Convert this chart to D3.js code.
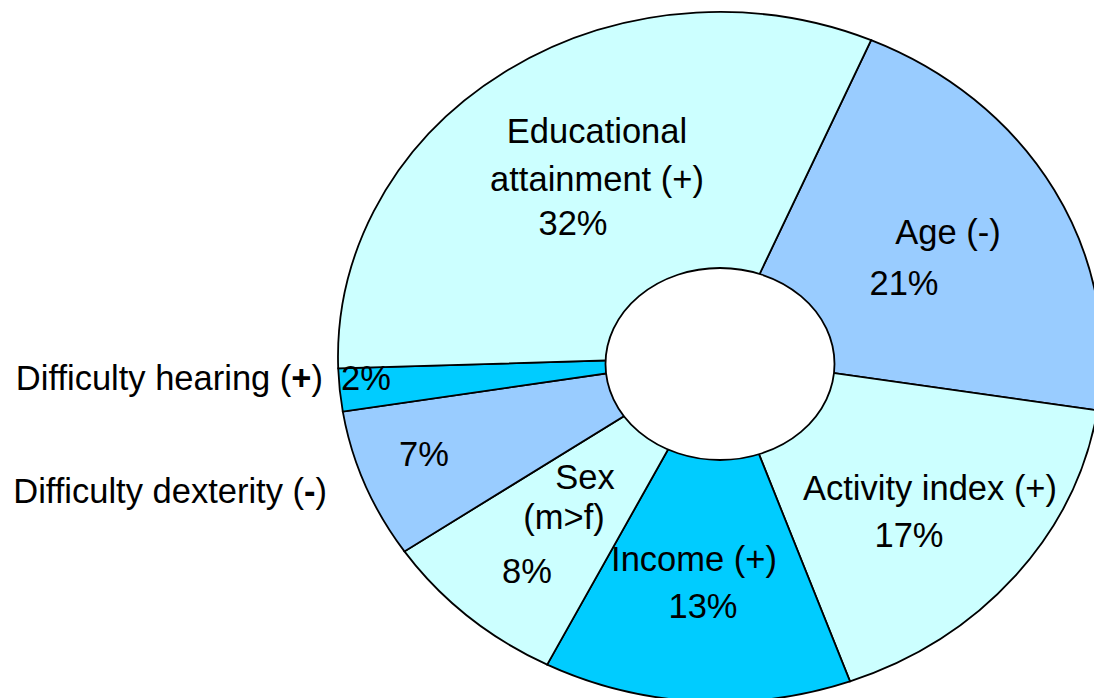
<!DOCTYPE html>
<html>
<head>
<meta charset="utf-8">
<script src="https://cdn.jsdelivr.net/npm/d3@7"></script>
<style>
  body { margin: 0; background: #fff; overflow: hidden; }
  svg { display: block; font-family: "Liberation Sans", Arial, sans-serif; }
</style>
</head>
<body>
<div id="chart"></div>
<script>
(function() {

    // slices, clockwise starting with Age
    const categories = ["Age (-)", "Activity index (+)", "Income (+)", "Sex (m>f)",
                        "Difficulty dexterity (-)", "Difficulty hearing (+)", "Educational attainment (+)"];
    const shares = [21, 17, 13, 8, 7, 2, 32];

    const fills = ["#99ccff", "#ccffff", "#00ccff", "#ccffff", "#99ccff", "#00ccff", "#ccffff"];

    const width = 1094;
    const height = 698;
    const center = {x: 720, y: 357};
    const rx = 382, ry = 345;
    const hole = {x: 720, y: 364, rx: 114.5, ry: 96};
    const startDeg = 23.3;

    // label lines inside / beside the slices (text layout, placed by hand like the original)
    const labelLayout = [
        {cat: 0, x: 948, y: 244, lines: ["Age (-)"]},
        {cat: 0, x: 904, y: 295, lines: ["%"]},
        {cat: 1, x: 930, y: 500, lines: ["Activity index (+)"]},
        {cat: 1, x: 909, y: 547, lines: ["%"]},
        {cat: 2, x: 694, y: 571, lines: ["Income (+)"]},
        {cat: 2, x: 703, y: 618, lines: ["%"]},
        {cat: 3, x: 585, y: 489, lines: ["Sex"]},
        {cat: 3, x: 564, y: 529, lines: ["(m>f)"]},
        {cat: 3, x: 527, y: 583, lines: ["%"]},
        {cat: 4, x: 424, y: 466, lines: ["%"]},
        {cat: 5, x: 366, y: 390, lines: ["%"]},
        {cat: 6, x: 597, y: 143, lines: ["Educational"]},
        {cat: 6, x: 597, y: 191, lines: ["attainment (+)"]},
        {cat: 6, x: 573, y: 235, lines: ["%"]}
    ];

    const svg = d3.select("#chart").append("svg")
        .attr("width", width)
        .attr("height", height);

    const pie = d3.pie()
        .sort(null)
        .value(d => d)
        .startAngle(startDeg * Math.PI / 180)
        .endAngle((startDeg + 360) * Math.PI / 180);

    const arc = d3.arc()
        .innerRadius(0)
        .outerRadius(rx);

    // circle pie squashed into an ellipse
    svg.append("g")
        .attr("transform", `translate(${center.x},${center.y}) scale(1,${ry / rx})`)
        .selectAll("path")
        .data(pie(shares))
        .join("path")
        .attr("d", arc)
        .attr("fill", (d, i) => fills[i])
        .attr("stroke", "#000")
        .attr("stroke-width", 1.8)
        .attr("vector-effect", "non-scaling-stroke");

    svg.append("ellipse")
        .attr("cx", hole.x)
        .attr("cy", hole.y)
        .attr("rx", hole.rx)
        .attr("ry", hole.ry)
        .attr("fill", "#fff")
        .attr("stroke", "#000")
        .attr("stroke-width", 1.8);

    svg.append("g")
        .selectAll("text")
        .data(labelLayout)
        .join("text")
        .attr("x", d => d.x)
        .attr("y", d => d.y)
        .attr("text-anchor", "middle")
        .attr("font-size", "34.5px")
        .attr("fill", "#000")
        .text(d => d.lines[0] === "%" ? shares[d.cat] + "%" : d.lines[0]);

    // outside labels with bold sign
    const outside = [
        {cat: 5, x: 323, y: 390, name: "Difficulty hearing (", sign: "+"},
        {cat: 4, x: 327, y: 503, name: "Difficulty dexterity (", sign: "-"}
    ];

    const out = svg.append("g")
        .selectAll("text")
        .data(outside)
        .join("text")
        .attr("x", d => d.x)
        .attr("y", d => d.y)
        .attr("text-anchor", "end")
        .attr("font-size", "34.5px")
        .attr("fill", "#000");
    out.append("tspan").text(d => d.name);
    out.append("tspan").attr("font-weight", "bold").text(d => d.sign);
    out.append("tspan").text(")");

})();
</script>
</body>
</html>
